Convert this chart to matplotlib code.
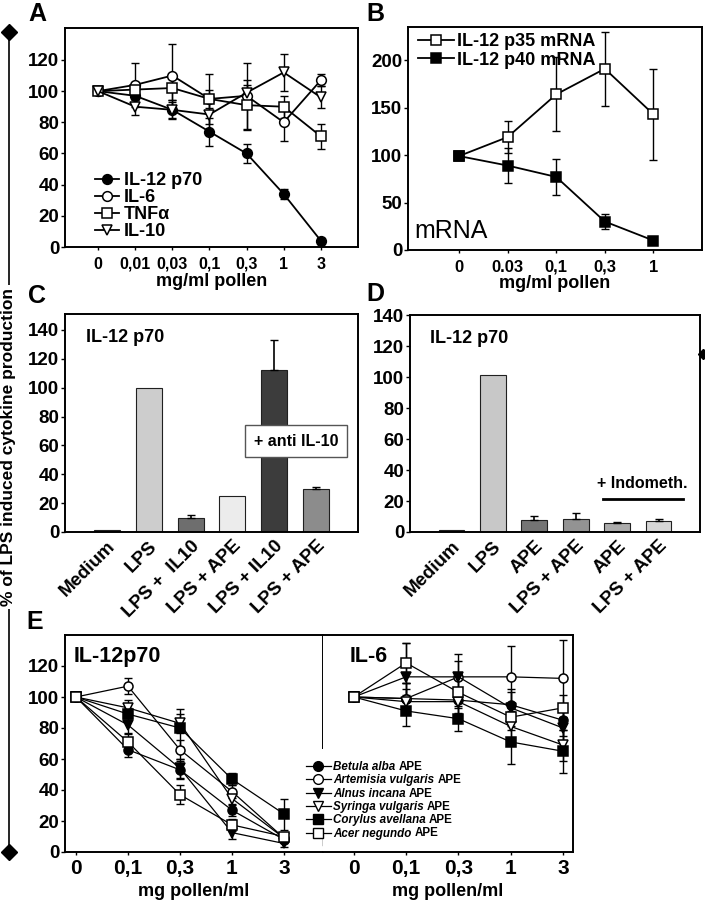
import matplotlib
matplotlib.use("Agg")
import matplotlib.pyplot as plt
from matplotlib.lines import Line2D

plt.rcParams['font.family'] = ['Liberation Sans', 'DejaVu Sans']
plt.rcParams['font.weight'] = 'bold'
plt.rcParams['axes.linewidth'] = 1.4

# ---- panel A ----
a_x = ['0', '0,01', '0,03', '0,1', '0,3', '1', '3']
a_il12 = [100, 97, 88, 74, 60, 34, 4]
a_il12_err = [0, 3, 5, 9, 6, 3, 2]
a_il6 = [100, 104, 110, 95, 97, 80, 107]
a_il6_err = [0, 14, 20, 16, 21, 12, 4]
a_tnf = [100, 101, 102, 95, 91, 90, 71]
a_tnf_err = [0, 5, 8, 6, 16, 7, 8]
a_il10 = [100, 90, 88, 85, 99, 112, 96]
a_il10_err = [0, 5, 6, 10, 5, 12, 7]

# ---- panel B ----
b_x = ['0', '0.03', '0,1', '0,3', '1']
b_p35 = [99, 119, 164, 191, 143]
b_p35_err = [0, 17, 39, 39, 48]
b_p40 = [99, 89, 77, 30, 10]
b_p40_err = [0, 18, 19, 8, 2]

# ---- panel C ----
c_labels = ['Medium', 'LPS', 'LPS +  IL10', 'LPS + APE', 'LPS + IL10', 'LPS + APE']
c_vals = [1.3, 100, 10, 25, 112, 30]
c_err = [0, 0, 2, 0, 21, 1.5]
c_colors = ['#404040', '#cdcdcd', '#6e6e6e', '#ececec', '#3c3c3c', '#8c8c8c']

# ---- panel D ----
d_labels = ['Medium', 'LPS', 'APE', 'LPS + APE', 'APE', 'LPS + APE']
d_vals = [1.2, 101, 8, 8.5, 5.5, 7]
d_err = [0, 0, 2.5, 3.5, 0.8, 1.5]
d_colors = ['#404040', '#c8c8c8', '#747474', '#939393', '#ababab', '#d6d6d6']

# ---- panel E ----
e_x = ['0', '0,1', '0,3', '1', '3']
species = ['Betula alba', 'Artemisia vulgaris', 'Alnus incana',
           'Syringa vulgaris', 'Corylus avellana', 'Acer negundo']
e12_betula = [100, 66, 53, 27, 8]
e12_artemisia = [100, 107, 66, 39, 9]
e12_alnus = [100, 82, 54, 12.5, 5.5]
e12_syringa = [100, 93, 83, 34.5, 9]
e12_corylus = [100, 89, 80, 47, 24.5]
e12_acer = [100, 71, 37, 17.5, 10]
e12_err = [0, 5, 6, 4, 2]
e12_corylus_err = [0, 4, 12, 4, 10]

e6_betula = [100, 99, 98, 95, 85]
e6_artemisia = [100, 99, 113, 113, 112]
e6_alnus = [100, 113, 113, 93, 80]
e6_syringa = [100, 97, 97, 81, 69]
e6_corylus = [100, 91, 86, 71, 65]
e6_acer = [100, 122, 103, 87, 93]
e6_betula_err = [0, 10, 8, 8, 10]
e6_artemisia_err = [0, 10, 10, 20, 25]
e6_alnus_err = [0, 22, 15, 12, 12]
e6_syringa_err = [0, 8, 8, 10, 10]
e6_corylus_err = [0, 10, 8, 14, 14]
e6_acer_err = [0, 13, 10, 8, 8]

fig = plt.figure(figsize=(7.05, 9.0), dpi=100)


def errs(ax, y, err, lower=True, lw=1):
    # only draw error bars where there is an error
    idx = [i for i, e in enumerate(err) if e > 0]
    ys = [y[i] for i in idx]
    up = [err[i] for i in idx]
    lo = up if lower else [0] * len(up)
    ax.errorbar(idx, ys, yerr=[lo, up], fmt='none', ecolor='black', elinewidth=lw,
                capsize=3, zorder=2)


def series(ax, y, err, marker, face, label=None, ms=7, lw=1.3):
    x = list(range(len(y)))
    errs(ax, y, err)
    ax.plot(x, y, color='black', lw=lw, marker=marker, ms=ms, mfc=face, mec='black',
            mew=1.1, label=label, zorder=3)


def style(ax, xlabels, tick_fs=11.5):
    ax.set_xticks(range(len(xlabels)))
    ax.set_xticklabels(xlabels, fontsize=tick_fs, fontweight='bold')
    ax.tick_params(axis='y', labelsize=13.5, length=3, width=1, pad=1)
    ax.tick_params(axis='x', length=2, width=1, pad=5)
    for t in ax.get_yticklabels():
        t.set_fontweight('bold')


# A
axA = fig.add_axes([65 / 705, 1 - 247 / 900, 293 / 705, 219 / 900])
series(axA, a_il12, a_il12_err, 'o', 'black', 'IL-12 p70')
series(axA, a_il6, a_il6_err, 'o', 'white', 'IL-6')
series(axA, a_tnf, a_tnf_err, 's', 'white', 'TNFα', ms=6.5)
series(axA, a_il10, a_il10_err, 'v', 'white', 'IL-10')
axA.set_xlim(-0.89, 7.0)
axA.set_ylim(0, 140.5)
axA.set_yticks(range(0, 121, 20))
style(axA, a_x)
axA.set_xlabel('mg/ml pollen', fontsize=13, fontweight='bold', labelpad=1)
axA.legend(loc='upper left', bbox_to_anchor=(0.06, 0.40), frameon=False, fontsize=13,
           handlelength=1.3, handletextpad=0.3, labelspacing=0.0, borderpad=0.2)

# B
axB = fig.add_axes([408 / 705, 1 - 250 / 900, 294 / 705, 223 / 900])
series(axB, b_p35, b_p35_err, 's', 'white', 'IL-12 p35 mRNA', ms=6.5)
series(axB, b_p40, b_p40_err, 's', 'black', 'IL-12 p40 mRNA', ms=6.5)
axB.set_xlim(-1.05, 5.0)
axB.set_ylim(0, 235)
axB.set_yticks([0, 50, 100, 150, 200])
style(axB, b_x, tick_fs=12)
axB.set_xlabel('mg/ml pollen', fontsize=13, fontweight='bold', labelpad=0)
axB.legend(loc='upper left', bbox_to_anchor=(-0.01, 1.03), frameon=False, fontsize=13,
           handlelength=2.0, handletextpad=0.2, labelspacing=0.1, borderpad=0.2)
axB.text(0.02, 0.085, 'mRNA', transform=axB.transAxes, fontsize=18, fontweight='normal',
         ha='left', va='center')


def bars(ax, labels, vals, err, colors):
    x = list(range(len(vals)))
    ax.bar(x, vals, width=0.62, color=colors, edgecolor='#202020', linewidth=0.8, zorder=2)
    errs(ax, vals, err, lower=False, lw=1.2)
    ax.set_xlim(-1.0, 6.0)
    ax.set_xticks(x)
    ax.set_xticklabels(labels, rotation=45, ha='right', rotation_mode='anchor',
                       fontsize=13.5, fontweight='bold')
    ax.tick_params(axis='y', labelsize=13.5, length=3, width=1, pad=1)
    ax.tick_params(axis='x', length=0, pad=4)
    for t in ax.get_yticklabels():
        t.set_fontweight('bold')
    ax.text(0.07, 0.93, 'IL-12 p70', transform=ax.transAxes, fontsize=13,
            fontweight='bold', ha='left', va='top')


# C
axC = fig.add_axes([65 / 705, 1 - 532 / 900, 293 / 705, 218 / 900])
bars(axC, c_labels, c_vals, c_err, c_colors)
axC.set_ylim(0, 151)
axC.set_yticks(range(0, 141, 20))
axC.text(4.52, 63, '+ anti IL-10', fontsize=11.5, fontweight='bold', ha='center', va='center',
         bbox=dict(boxstyle='square,pad=0.55', fc='white', ec='#555555', lw=1), zorder=4)

# D
axD = fig.add_axes([410 / 705, 1 - 532 / 900, 290 / 705, 217 / 900])
bars(axD, d_labels, d_vals, d_err, d_colors)
axD.set_ylim(0, 140)
axD.set_yticks(range(0, 141, 20))
axD.plot([3.65, 5.6], [21.5, 21.5], color='black', lw=2)
axD.text(4.6, 31, '+ Indometh.', fontsize=11.5, fontweight='bold', ha='center', va='center')

# E left / right
axEL = fig.add_axes([65 / 705, 1 - 852 / 900, 258 / 705, 217 / 900])
axER = fig.add_axes([323 / 705, 1 - 852 / 900, 250 / 705, 217 / 900])

e12_all = [e12_betula, e12_artemisia, e12_alnus, e12_syringa, e12_corylus, e12_acer]
e12_errs = [e12_err, e12_err, e12_err, e12_err, e12_corylus_err, e12_err]
e6_all = [e6_betula, e6_artemisia, e6_alnus, e6_syringa, e6_corylus, e6_acer]
e6_errs = [e6_betula_err, e6_artemisia_err, e6_alnus_err, e6_syringa_err,
           e6_corylus_err, e6_acer_err]
e_markers = ['o', 'o', 'v', 'v', 's', 's']
e_faces = ['black', 'white', 'black', 'white', 'black', 'white']

for y, err, m, f in zip(e12_all, e12_errs, e_markers, e_faces):
    series(axEL, y, err, m, f, ms=6.5, lw=0.9)
for y, err, m, f in zip(e6_all, e6_errs, e_markers, e_faces):
    series(axER, y, err, m, f, ms=6.5, lw=0.9)

axEL.set_xlim(-0.21, 4.75)
axER.set_xlim(-0.59, 4.19)
for ax in (axEL, axER):
    ax.set_ylim(0, 140)
    ax.set_xticks(range(len(e_x)))
    ax.set_xticklabels(e_x, fontsize=15, fontweight='bold')
    ax.tick_params(axis='x', length=2, width=1, pad=3)
    ax.set_xlabel('mg pollen/ml', fontsize=13, fontweight='bold', labelpad=4)
axEL.set_yticks(range(0, 121, 20))
axEL.tick_params(axis='y', labelsize=13.5, length=3, width=1, pad=1)
for t in axEL.get_yticklabels():
    t.set_fontweight('bold')
axEL.spines['right'].set_visible(False)
axER.spines['left'].set_visible(False)
axER.set_yticks([])
axEL.plot([1, 1], [1, 0.48], transform=axEL.transAxes, color='black', lw=1.4, clip_on=False)
axEL.plot([1, 1], [0.03, 0.09], transform=axEL.transAxes, color='black', lw=1, clip_on=False)
axEL.text(0.035, 0.95, 'IL-12p70', transform=axEL.transAxes, fontsize=15.5,
          fontweight='bold', ha='left', va='top')
axER.text(0.105, 0.95, 'IL-6', transform=axER.transAxes, fontsize=15.5,
          fontweight='bold', ha='left', va='top')

# legend for E drawn row by row: italic species name followed by upright "APE"
renderer = fig.canvas.get_renderer()
for i, (name, m, f) in enumerate(zip(species, e_markers, e_faces)):
    yy = 1 - (766 + 13.3 * i) / 900
    ybase = 1 - (770 + 13.3 * i) / 900
    fig.add_artist(Line2D([306 / 705, 331 / 705], [yy, yy], color='black', lw=0.9))
    fig.add_artist(Line2D([318 / 705], [yy], marker=m, ms=7, mfc=f, mec='black', color='black'))
    t = fig.text(333 / 705, ybase, name + ' ', fontsize=8.4, fontstyle='italic',
                 fontweight='bold', ha='left', va='baseline')
    bb = t.get_window_extent(renderer)
    fig.text(bb.x1 / fig.bbox.width, ybase, 'APE', fontsize=8.4, fontweight='bold',
             ha='left', va='baseline')

# panel letters
for letter, x, y in [('A', 37, 14), ('B', 375, 14), ('C', 37, 296), ('D', 375, 294),
                     ('E', 35, 622)]:
    fig.text(x / 705, 1 - y / 900, letter, fontsize=18, fontweight='bold',
             ha='center', va='center')

# shared y label with bracket line
fig.add_artist(Line2D([9 / 705, 9 / 705], [1 - 32 / 900, 1 - 852 / 900], color='black', lw=1.2))
fig.add_artist(Line2D([9 / 705], [1 - 32 / 900], marker='D', ms=8, color='black'))
fig.add_artist(Line2D([9 / 705], [1 - 852 / 900], marker='D', ms=8, color='black'))
fig.add_artist(Line2D([703 / 705], [1 - 354 / 900], marker='D', ms=5, color='black'))
fig.text(9 / 705, 1 - 447 / 900, '% of LPS induced cytokine production', rotation=90,
         fontsize=12.5, fontweight='bold', ha='center', va='center',
         bbox=dict(fc='white', ec='none', pad=2))

fig.savefig('out.png', dpi=100)
